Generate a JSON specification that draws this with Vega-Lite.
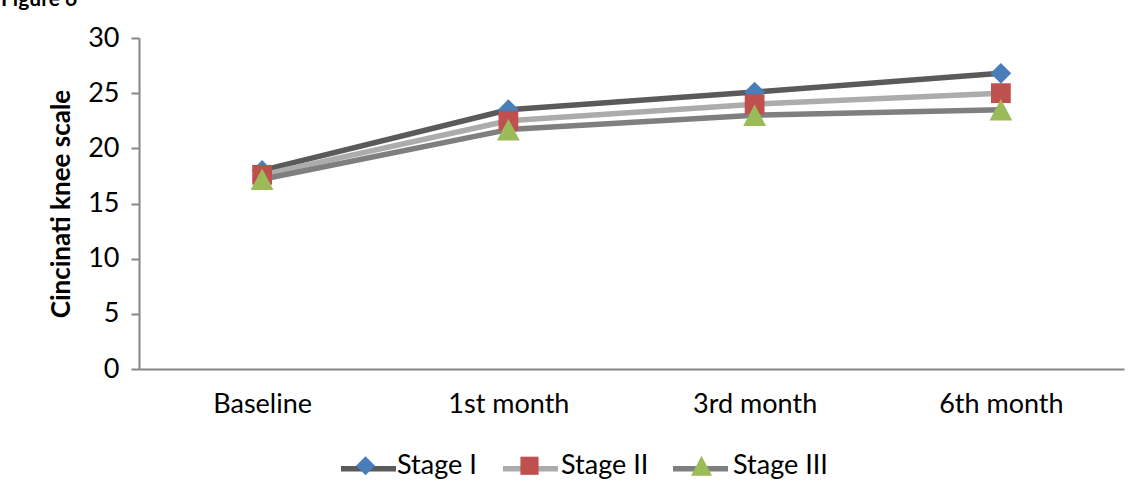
{
  "$schema": "https://vega.github.io/schema/vega-lite/v6.json",
  "width": 985,
  "height": 331,
  "autosize": "none",
  "padding": {"left": 139, "top": 38, "right": 17, "bottom": 130},
  "background": "white",
  "title": {
    "text": "Figure 6",
    "anchor": "start",
    "frame": "group",
    "orient": "top",
    "dx": -138,
    "dy": 13,
    "offset": 10,
    "baseline": "alphabetic",
    "font": "Lato",
    "fontSize": 21,
    "fontWeight": "bold",
    "color": "black"
  },
  "config": {
    "font": "Lato",
    "view": {"stroke": null},
    "axis": {
      "labelFont": "Lato",
      "labelFontSize": 27,
      "labelColor": "black",
      "domainColor": "#868686",
      "domainWidth": 2,
      "tickColor": "#868686",
      "tickWidth": 2,
      "grid": false
    },
    "legend": {"padding": 0}
  },
  "data": {
    "values": [
      {"Time": "Baseline", "Stage": "Stage I", "Score": 18.0},
      {"Time": "1st month", "Stage": "Stage I", "Score": 23.5},
      {"Time": "3rd month", "Stage": "Stage I", "Score": 25.1},
      {"Time": "6th month", "Stage": "Stage I", "Score": 26.8},
      {"Time": "Baseline", "Stage": "Stage II", "Score": 17.6},
      {"Time": "1st month", "Stage": "Stage II", "Score": 22.5},
      {"Time": "3rd month", "Stage": "Stage II", "Score": 24.0},
      {"Time": "6th month", "Stage": "Stage II", "Score": 25.0},
      {"Time": "Baseline", "Stage": "Stage III", "Score": 17.2},
      {"Time": "1st month", "Stage": "Stage III", "Score": 21.7},
      {"Time": "3rd month", "Stage": "Stage III", "Score": 23.0},
      {"Time": "6th month", "Stage": "Stage III", "Score": 23.5}
    ]
  },
  "encoding": {
    "x": {
      "field": "Time",
      "type": "nominal",
      "sort": ["Baseline", "1st month", "3rd month", "6th month"],
      "scale": {"type": "point", "padding": 0.5},
      "axis": {"title": null, "labelAngle": 0, "ticks": false, "labelPadding": 22}
    },
    "y": {
      "field": "Score",
      "type": "quantitative",
      "scale": {"domain": [0, 30], "nice": false, "zero": true},
      "axis": {
        "title": "Cincinati knee scale",
        "titleFont": "Lato",
        "titleFontSize": 26,
        "titleFontWeight": "bold",
        "titleColor": "black",
        "titlePadding": 13,
        "values": [0, 5, 10, 15, 20, 25, 30],
        "tickSize": 8,
        "labelPadding": 12
      }
    }
  },
  "layer": [
    {
      "mark": {"type": "line", "strokeWidth": 5.5, "strokeJoin": "round", "strokeCap": "round"},
      "encoding": {
        "stroke": {
          "field": "Stage",
          "type": "nominal",
          "scale": {
            "domain": ["Stage I", "Stage II", "Stage III"],
            "range": ["#5a5a5a", "#acacac", "#7f7f7f"]
          },
          "legend": {
            "title": null,
            "orient": "none",
            "direction": "horizontal",
            "legendX": 199,
            "legendY": 400,
            "symbolType": "stroke",
            "symbolSize": 3025,
            "symbolStrokeWidth": 5.5,
            "labelFont": "Lato",
            "labelFontSize": 27,
            "labelOpacity": 0,
            "labelColor": "transparent",
            "labelOffset": 4,
            "columnPadding": 9,
            "zindex": 1
          }
        }
      }
    },
    {
      "mark": {"type": "point", "filled": true, "opacity": 1, "size": 3600, "strokeWidth": 0},
      "encoding": {
        "fill": {
          "field": "Stage",
          "type": "nominal",
          "scale": {"range": ["#4a7ebb", "#c0504d", "#9bbb59"]},
          "legend": {
            "title": null,
            "orient": "none",
            "direction": "horizontal",
            "legendX": 199,
            "legendY": 400,
            "symbolSize": 3025,
            "symbolStrokeWidth": 0,
            "symbolOpacity": 1,
            "labelFont": "Lato",
            "labelFontSize": 27,
            "labelColor": "black",
            "labelOffset": 4,
            "columnPadding": 25,
            "zindex": 2
          }
        },
        "shape": {
          "field": "Stage",
          "type": "nominal",
          "scale": {
            "range": [
              "M0,-0.345L0.345,0L0,0.345L-0.345,0Z",
              "M-0.33,-0.33H0.33V0.33H-0.33Z",
              "M0,-0.36L0.38,0.36L-0.38,0.36Z"
            ]
          },
          "legend": {
            "title": null,
            "orient": "none",
            "direction": "horizontal",
            "legendX": 199,
            "legendY": 400,
            "symbolSize": 3025,
            "symbolStrokeWidth": 0,
            "symbolOpacity": 1,
            "labelFont": "Lato",
            "labelFontSize": 27,
            "labelColor": "black",
            "labelOffset": 4,
            "columnPadding": 25,
            "zindex": 2
          }
        }
      }
    }
  ]
}
